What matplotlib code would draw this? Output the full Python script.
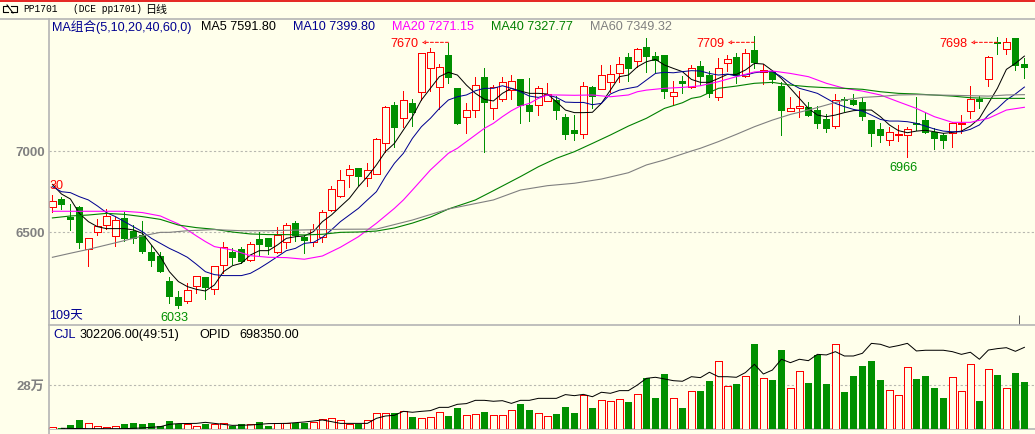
import matplotlib
matplotlib.use("Agg")
import numpy as np
import matplotlib.pyplot as plt
from matplotlib.lines import Line2D

# daily candles
opens = [6659,6706,6595,6656,6397,6500,6543,6480,6587,6508,
         6484,6377,6354,6198,6099,6078,6167,6222,6148,6296,
         6377,6395,6327,6457,6463,6377,6438,6556,6473,6443,
         6473,6636,6722,6852,6897,6833,6858,7053,7286,7204,
         7296,7364,7512,7399,7594,7391,7210,7253,7459,7265,
         7325,7376,7444,7286,7288,7313,7317,7210,7132,7105,
         7397,7383,7426,7481,7582,7555,7642,7588,7594,7339,
         7434,7399,7527,7471,7335,7543,7582,7467,7625,7492,
         7496,7403,7251,7269,7272,7255,7200,7158,7323,7317,
         7302,7193,7138,7068,7099,7103,7173,7193,7119,7101,
         7111,7171,7251,7323,7444,7673,7634,7699,7539]
highs = [6731,6716,6675,6663,6463,6582,6642,6597,6626,6545,
         6570,6422,6377,6225,6138,6185,6233,6222,6294,6438,
         6401,6410,6438,6500,6463,6531,6556,6572,6484,6552,
         6638,6786,6885,6914,6897,6926,7080,7280,7304,7372,
         7323,7605,7636,7539,7670,7391,7296,7461,7512,7409,
         7457,7471,7444,7450,7405,7422,7341,7230,7224,7428,
         7403,7533,7535,7580,7607,7638,7699,7611,7594,7434,
         7465,7533,7557,7496,7578,7594,7605,7631,7709,7539,
         7502,7430,7333,7372,7302,7280,7228,7354,7337,7354,
         7333,7193,7175,7152,7163,7152,7333,7245,7142,7115,
         7183,7224,7403,7341,7588,7703,7698,7699,7578]
lows = [6624,6644,6515,6401,6294,6484,6519,6418,6449,6434,
        6375,6294,6257,6066,6033,6066,6128,6091,6120,6247,
        6305,6313,6325,6360,6366,6375,6401,6447,6373,6418,
        6443,6634,6720,6782,6792,6788,6858,6996,7025,7152,
        7158,7317,7374,7259,7424,7171,7115,7214,6994,7202,
        7313,7325,7177,7189,7226,7313,7202,7078,7070,7080,
        7267,7383,7366,7426,7432,7522,7492,7492,7329,7284,
        7362,7389,7409,7337,7317,7498,7420,7461,7512,7413,
        7420,7103,7251,7214,7218,7146,7121,7146,7251,7286,
        7193,7033,7060,7041,7066,6966,7132,7115,7016,7021,
        7029,7111,7208,7269,7403,7601,7601,7502,7455]
closes = [6691,6671,6578,6436,6463,6537,6599,6574,6457,6461,
          6381,6325,6257,6103,6048,6142,6233,6159,6290,6412,
          6344,6319,6426,6422,6412,6482,6547,6478,6445,6523,
          6624,6766,6825,6893,6844,6883,7074,7272,7146,7315,
          7237,7605,7611,7518,7455,7171,7253,7407,7300,7395,
          7426,7432,7282,7245,7389,7354,7251,7103,7107,7401,
          7337,7469,7475,7537,7508,7629,7584,7560,7368,7364,
          7418,7512,7461,7356,7512,7568,7467,7607,7545,7500,
          7442,7251,7267,7278,7218,7171,7138,7317,7311,7286,
          7214,7109,7097,7117,7105,7136,7165,7115,7078,7066,
          7173,7177,7321,7306,7580,7664,7677,7529,7516]

# moving averages
ma5 = [6796,6737,6706,6617,6566,6535,6523,6523,6523,6515,
       6494,6422,6350,6257,6196,6165,6148,6138,6175,6257,
       6294,6309,6360,6387,6387,6422,6463,6473,6478,6504,
       6566,6607,6659,6710,6782,6844,6916,6998,7049,7132,
       7214,7317,7389,7461,7488,7471,7409,7358,7321,7311,
       7358,7389,7372,7358,7358,7354,7306,7255,7239,7239,
       7241,7296,7378,7461,7471,7522,7553,7568,7533,7512,
       7492,7444,7426,7426,7450,7475,7475,7502,7543,7539,
       7498,7450,7389,7327,7265,7224,7214,7224,7239,7251,
       7255,7255,7214,7163,7128,7115,7125,7130,7121,7111,
       7117,7125,7156,7204,7296,7389,7506,7543,7588]
ma10 = [6782,6751,6745,6720,6700,6663,6622,6597,6566,6535,
        6504,6463,6432,6401,6375,6346,6303,6257,6239,6233,
        6233,6233,6247,6278,6313,6350,6387,6401,6432,6438,
        6469,6515,6566,6607,6648,6700,6751,6844,6926,6988,
        7080,7152,7204,7265,7317,7337,7348,7374,7389,7389,
        7405,7389,7368,7341,7333,7348,7333,7304,7302,7302,
        7288,7296,7354,7378,7389,7399,7440,7481,7488,7485,
        7492,7498,7496,7481,7471,7477,7465,7471,7485,7492,
        7492,7461,7420,7389,7374,7358,7327,7296,7276,7259,
        7249,7224,7197,7187,7187,7183,7173,7156,7138,7125,
        7121,7121,7136,7163,7224,7265,7317,7354,7397]
ma20_x = [0,8,10,12,13,14,15,16,17,18,20,22,24,26,28,30,32,34,36,38,39,40,41,42,44,45,
          46,47,48,49,50,51,52,53,54,55,56,58,60,62,64,65,66,68,70,71,72,74,76,78,80,
          82,84,86,88,90,92,94,96,98,100,102,104,106,108]
ma20 = [6630,6630,6622,6601,6576,6552,6515,6478,6443,6412,6391,6356,6346,6344,6334,6354,
        6408,6473,6556,6648,6700,6761,6823,6885,6988,7019,7060,7101,7142,7173,7214,7251,
        7280,7296,7327,7348,7348,7346,7348,7337,7348,7368,7378,7389,7395,7399,7405,7430,
        7461,7490,7496,7481,7461,7420,7389,7372,7348,7306,7265,7214,7179,7179,7204,7255,7272]
ma40_x = [0,2,4,6,8,10,12,14,16,18,20,22,24,26,28,30,32,34,36,38,40,42,44,46,47,49,50,52,
          54,56,58,60,62,64,66,68,70,71,72,74,76,78,80,82,84,86,88,90,92,94,96,100,102,104,106,108]
ma40 = [6589,6601,6607,6617,6611,6597,6580,6545,6529,6519,6502,6490,6486,6486,6484,6488,
        6500,6502,6508,6527,6557,6594,6644,6681,6700,6757,6786,6844,6905,6957,6998,7049,
        7101,7156,7204,7265,7300,7327,7337,7389,7403,7420,7426,7409,7399,7393,7389,7383,
        7368,7358,7354,7341,7331,7327,7327,7327]
ma60_x = [0,2,4,6,8,10,12,13,15,18,21,24,28,32,36,40,44,49,52,55,58,61,64,66,68,71,72,74,
          76,78,80,82,84,86,88,90,92,94,96,100,104,106,108]
ma60 = [6346,6371,6395,6422,6449,6478,6500,6500,6510,6517,6510,6510,6515,6519,6520,6576,
        6644,6700,6761,6788,6803,6829,6868,6916,6947,7002,7019,7060,7105,7152,7193,7228,
        7255,7286,7317,7333,7339,7348,7350,7346,7341,7348,7350]

# volume, thousands of lots
cjl = [15,9,23,56,41,21,15,21,30,36,
       30,36,21,49,34,30,21,30,30,41,
       21,30,30,43,19,41,41,41,38,45,
       62,68,56,34,34,56,100,100,100,113,
       77,68,75,107,83,135,88,94,109,88,
       88,120,160,122,100,81,96,141,103,216,
       135,184,177,190,173,222,327,199,352,197,
       135,241,244,308,434,273,288,337,545,325,
       314,506,261,370,295,474,288,543,237,340,
       404,436,314,248,216,395,320,340,263,199,
       331,241,414,179,382,346,261,359,302]
# open interest, thousands
opid_x = [1,4,8,10,12,13,14,16,17,18,20,22,24,26,28,30,31,32,35]+list(range(36,55))+[56]+list(range(57,109))
opid = [6,3,3,9,20,40,46,48,57,48,31,34,46,48,60,77,63,48,48,
        91,111,117,151,143,151,157,185,185,211,217,245,245,237,242,219,245,245,262,262,
        294,285,296,276,314,305,328,328,376,433,442,428,413,408,447,
        439,485,447,447,442,482,553,470,504,596,567,596,584,638,633,661,624,624,647,732,
        724,698,713,732,667,673,673,673,661,638,656,596,675,687,695,664,698]

BG = "#FFFFEB"
RED = "#FF0000"
GREEN = "#009000"
AXIS = "#B4B4B4"
NAVY = "#000090"
W, H = 1035, 434
CJK = ["Liberation Sans", "Noto Sans CJK SC"]
FS = 9.1


def fx(px):
    return px / W


def fy(py):
    return 1 - py / H


def label(px, py, s, color="black", size=FS, family=CJK, **kw):
    fig.text(fx(px), fy(py), s, color=color, fontsize=size, family=family, va="center", **kw)


fig = plt.figure(figsize=(W / 100, H / 100), dpi=100, facecolor=BG)
x = np.arange(len(opens))
is_up = np.array(closes) >= np.array(opens)
colors = [RED if u else GREEN for u in is_up]

# candle i lands at 52.4 + 9 * i pixels
xlim = ((49 - 52.4) / 9, (1035 - 52.4) / 9)
ax = fig.add_axes([fx(49), fy(325), fx(1035 - 49), (325 - 19) / H], facecolor=BG)
ax.set_xlim(xlim)
ax.set_ylim(5928, 7817)
ax.vlines(x, lows, highs, colors=colors, lw=0.72, antialiased=False, zorder=2)
bottoms = np.minimum(opens, closes)
heights = np.maximum(np.abs(np.array(closes) - np.array(opens)), 5)
ax.bar(x[is_up], heights[is_up], bottom=bottoms[is_up], width=0.72, facecolor=BG,
       edgecolor=RED, lw=0.7, antialiased=False, zorder=3)
ax.bar(x[~is_up], heights[~is_up], bottom=bottoms[~is_up], width=0.8, color=GREEN,
       antialiased=False, zorder=3)

ax.plot(x, ma5, color="black", lw=0.72, zorder=4)
ax.plot(x, ma10, color="#000090", lw=0.72, zorder=4)
ax.plot(ma20_x, ma20, color="#FF00FF", lw=0.8, zorder=4)
ax.plot(ma40_x, ma40, color="#008000", lw=0.8, zorder=4)
ax.plot(ma60_x, ma60, color="#808080", lw=0.8, zorder=4)

ax.set_xticks([])
ax.set_yticks([6500, 7000])
ax.tick_params(axis="y", length=0, pad=3, labelcolor="#808080", labelsize=9.5)
for t in ax.get_yticklabels():
    t.set_fontweight("bold")
    t.set_family("Liberation Sans")
ax.grid(axis="y", color="#B8B8B0", ls=(0, (2, 2)), lw=0.8, zorder=1)
ax.set_axisbelow(True)
for s in ax.spines.values():
    s.set_visible(False)

# high and low marks
for i, s in [(44, "7670"), (78, "7709"), (105, "7698")]:
    ax.annotate("", xy=(i - 2.95, 7673), xytext=(i, 7673),
                arrowprops=dict(arrowstyle="->", color=RED, ls=(0, (3, 2)), lw=0.72,
                                shrinkA=0, shrinkB=0, mutation_scale=5), zorder=5)
    ax.text(i - 4.93, 7660, s, color=RED, fontsize=FS, family="Liberation Sans",
            ha="center", va="center", zorder=5)
ax.text(13.6, 5970, "6033", color=GREEN, fontsize=FS, family="Liberation Sans", ha="center", va="center")
ax.text(94.6, 6900, "6966", color=GREEN, fontsize=FS, family="Liberation Sans", ha="center", va="center")
ax.text(-0.3, 6788, "30", color=RED, fontsize=FS, family="Liberation Sans", va="center", zorder=5)
ax.vlines(107.4, 5928, 5990, color="#606060", lw=0.72)

# volume panel
vax = fig.add_axes([fx(49), fy(429), fx(1035 - 49), (429 - 325) / H], facecolor=BG)
vax.set_xlim(xlim)
vax.set_ylim(0, 280 * (429 - 325) / (429 - 385.3))
vol = np.array(cjl)
vax.bar(x[is_up], vol[is_up], width=0.72, facecolor=BG, edgecolor=RED, lw=0.7,
        antialiased=False, zorder=3)
vax.bar(x[~is_up], vol[~is_up], width=0.8, color=GREEN, antialiased=False, zorder=3)
vax.set_xticks([])
vax.set_yticks([280])
vax.set_yticklabels(["28万"], family=CJK, fontweight="bold")
vax.tick_params(axis="y", length=0, pad=3, labelcolor="#808080", labelsize=9.5)
vax.grid(axis="y", color="#B8B8B0", ls=(0, (2, 2)), lw=0.8, zorder=1)
vax.set_axisbelow(True)
for s in vax.spines.values():
    s.set_visible(False)
vax.spines["bottom"].set_visible(True)
vax.spines["bottom"].set_color(AXIS)
vax.spines["bottom"].set_linewidth(1.2)

oax = vax.twinx()
oax.set_ylim(0, 698 * (429 - 325) / ((327 - 82) / 3))
oax.plot(opid_x, opid, color="black", lw=0.72, zorder=4)
oax.axis("off")
vax.vlines(107.4, 0, 60, color="#A0A0A0", lw=0.72, zorder=5)

# frame lines in pixels
for xs, ys, c, lw in [((0, W), (1, 1), "#E00000", 1.2),
                      ((0, W), (18.5, 18.5), AXIS, 1.2),
                      ((48.5, 48.5), (18.5, H), AXIS, 1.2),
                      ((48.5, W), (325, 325), AXIS, 1.2)]:
    fig.add_artist(Line2D([fx(v) for v in xs], [fy(v) for v in ys], color=c, lw=lw))

# small header icon
for xs, ys in [((8, 3, 3, 8), (6, 6, 12, 12)), ((7, 13), (5, 13)), ((11, 17, 17, 11), (6, 6, 12, 12))]:
    fig.add_artist(Line2D([fx(v) for v in xs], [fy(v) for v in ys], color="black", lw=0.8))

# header and legend texts
label(23, 9.5, "PP1701", size=6.9, family="Liberation Mono")
label(73, 9.5, "(DCE pp1701)", size=6.9, family="Liberation Mono")
label(145, 9.5, "日线", size=7.9, family="Noto Sans CJK SC")
label(52, 27, "MA组合(5,10,20,40,60,0)", color=NAVY)
label(201, 27, "MA5 7591.80")
label(293, 27, "MA10 7399.80", color=NAVY)
label(392, 27, "MA20 7271.15", color="#FF00FF")
label(491, 27, "MA40 7327.77", color="#008000")
label(590, 27, "MA60 7349.32", color="#808080")
label(49, 316, "109天", color=NAVY)
label(53, 335, "CJL", color=NAVY)
label(79, 335, "302206.00(49:51)")
label(199, 335, "OPID")
label(239, 335, "698350.00")

fig.savefig("out.png", dpi=100, facecolor=BG)
